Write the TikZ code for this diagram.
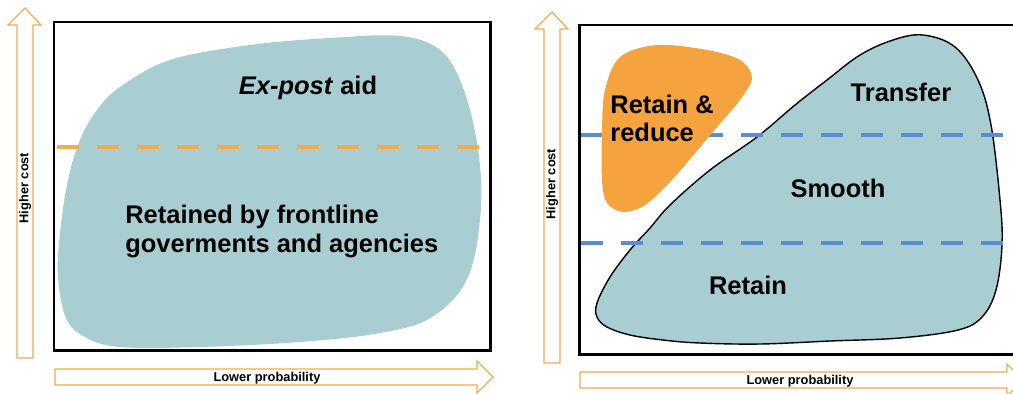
\documentclass[tikz,border=0pt]{standalone}
\usepackage{fontspec}
\setsansfont{Liberation Sans}
\definecolor{blob}{RGB}{169,206,209}
\definecolor{risk}{RGB}{244,163,62}
\definecolor{axis}{RGB}{245,170,80}
\definecolor{tier}{RGB}{90,142,212}
\begin{document}
\begin{tikzpicture}[x=0.02cm,y=-0.02cm,
    lbl/.style={font=\sffamily\bfseries\fontsize{14.5}{18}\selectfont,inner sep=0pt},
    axlbl/.style={font=\sffamily\bfseries\fontsize{7.3}{8}\selectfont,inner sep=0pt},
    axarrow/.style={draw=axis,line width=0.7pt,fill=white},
    frame/.style={line width=1.7pt},
    cut/.style={line width=2.3pt,dash pattern=on 0.44cm off 0.36cm}]
\clip (0,0) rectangle (1013,393);
\fill[white] (0,0) rectangle (1013,393);
\foreach \xm/\yt/\yb in {25/8/358,552/12/363}
  \draw[axarrow] (\xm-8,\yb)--(\xm-8,\yt+17)--(\xm-17,\yt+17)--(\xm,\yt)--(\xm+16,\yt+17)--(\xm+8,\yt+17)--(\xm+8,\yb)--cycle;
\foreach \xa/\xb/\ym in {55/477/377,580/1007/380}
  \draw[axarrow] (\xa,\ym-8)--(\xb,\ym-8)--(\xb,\ym-16)--(\xb+16,\ym)--(\xb,\ym+16)--(\xb,\ym+8)--(\xa,\ym+8)--cycle;
\foreach \x/\y/\n in {25/188/costL,552/184/costR} \node[axlbl,rotate=90] (\n) at (\x,\y) {Higher cost};
\foreach \x/\y/\n in {267/378/probL,800/381/probR} \node[axlbl] (\n) at (\x,\y) {Lower probability};
\draw[frame] (54,22) rectangle (490,350);
\draw[frame] (579,25) rectangle (1030,354);
\fill[blob] plot[smooth cycle,tension=0.6] coordinates{(120,87) (170,60) (250,45) (330,38) (400,36) (440,50) (462,85) (477,143) (481,207) (468,277) (432,317) (380,333) (300,342) (200,347) (120,347) (85,337) (66,318) (58,277) (60,233) (68,180) (80,140) (97,110)};
\draw[cut,axis] (57,147)--(490,147);
\node[lbl] (expost) at (308,88) {\textit{Ex-post} aid};
\node[lbl,align=left,anchor=west] (frontline) at (125,231) {Retained by frontline\\[-1.5pt]goverments and agencies};
\filldraw[fill=blob,draw=black,line width=0.8pt] plot[smooth cycle,tension=0.6] coordinates{(923,35) (955,47) (978,80) (991,125) (1000,200) (1002,245) (996,290) (982,317) (958,330) (900,338) (830,341) (760,344) (700,343) (663,340) (630,335) (607,327) (597,317) (597,303) (610,277) (630,250) (650,228) (670,205) (710,170) (757,137) (795,105) (827,80) (860,55) (893,40)};
\foreach \y in {135,243} \draw[cut,tier] (581,\y)--(1013,\y);
\fill[risk] plot[smooth cycle,tension=0.55] coordinates{(620,57) (657,45) (707,50) (740,60) (752,78) (740,100) (718,126) (696,152) (670,182) (645,205) (623,212) (607,203) (602,180) (602,130) (605,90)};
\node[lbl,align=left,anchor=west] (reduce) at (610,118) {Retain \&\\[-2pt]reduce};
\node[lbl] (transfer) at (901,92) {Transfer};
\node[lbl] (smooth) at (838,188) {Smooth};
\node[lbl] (retain) at (748,285) {Retain};
\end{tikzpicture}
\end{document}
